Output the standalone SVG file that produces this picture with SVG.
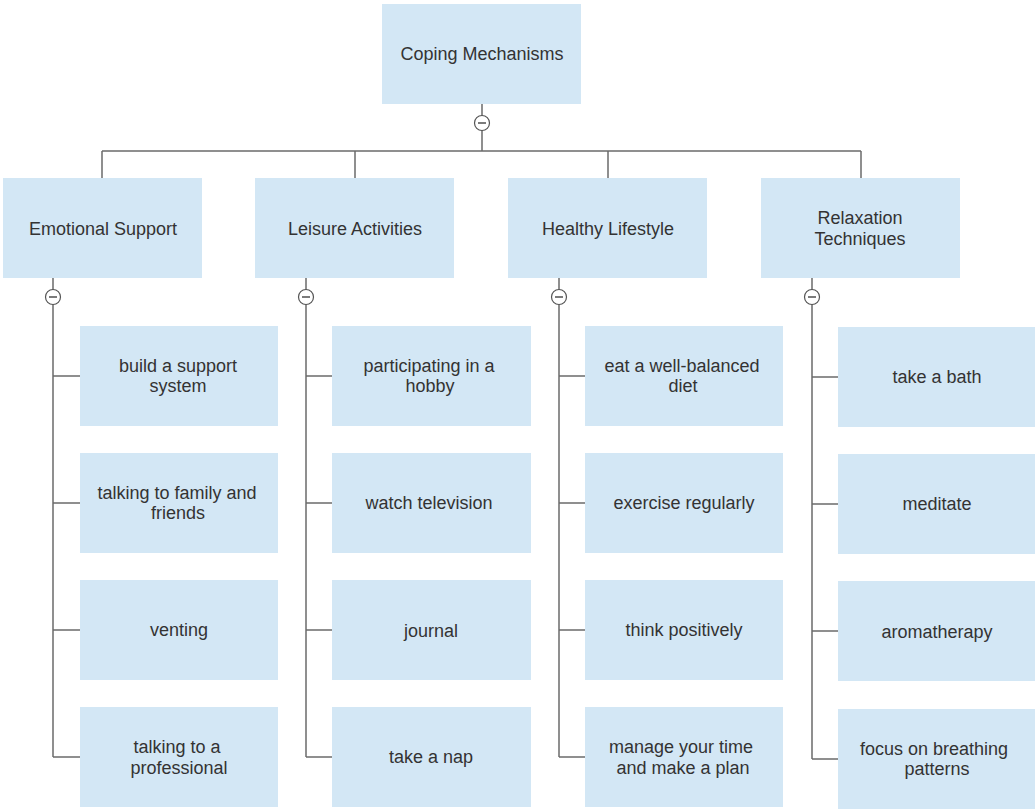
<svg xmlns="http://www.w3.org/2000/svg" width="1035" height="810" viewBox="0 0 1035 810">
<style>
.n{fill:#d3e7f5}
.t{font-family:"Liberation Sans",Arial,sans-serif;font-size:18px;fill:#333;text-anchor:middle}
.c{stroke:#6b6b6b;stroke-width:1.5;fill:none}
.k{fill:#fff;stroke:#555;stroke-width:1.2}
.m{stroke:#333;stroke-width:1.3}
</style>
<rect width="1035" height="810" fill="#fff"/>
<g id="connectors">
<path class="c" d="M482 104V151M102 151H861M102 151V178M355 151V178M608 151V178M861 151V178"/>
<path class="c" d="M53 278V757M53 376H80M53 503H80M53 630H80M53 757H80"/>
<path class="c" d="M306 278V757M306 376H332M306 503H332M306 630H332M306 757H332"/>
<path class="c" d="M559 278V757M559 376H585M559 503H585M559 630H585M559 757H585"/>
<path class="c" d="M812 278V759M812 377H838M812 504H838M812 631H838M812 759H838"/>
<g><circle class="k" cx="482" cy="123" r="7.5"/><path class="m" d="M478 123H486"/></g>
<g><circle class="k" cx="53" cy="297" r="7.5"/><path class="m" d="M49 297H57"/></g>
<g><circle class="k" cx="306" cy="297" r="7.5"/><path class="m" d="M302 297H310"/></g>
<g><circle class="k" cx="559" cy="297" r="7.5"/><path class="m" d="M555 297H563"/></g>
<g><circle class="k" cx="812" cy="297" r="7.5"/><path class="m" d="M808 297H816"/></g>
</g>
<g id="root"><rect class="n" x="382" y="4" width="199" height="100"/><text class="t" x="482" y="60">Coping Mechanisms</text></g>
<g id="emotional"><rect class="n" x="3" y="178" width="199" height="100"/><text class="t" x="103" y="235">Emotional Support</text></g>
<g id="leisure"><rect class="n" x="255" y="178" width="199" height="100"/><text class="t" x="355" y="235">Leisure Activities</text></g>
<g id="healthy"><rect class="n" x="508" y="178" width="199" height="100"/><text class="t" x="608" y="235">Healthy Lifestyle</text></g>
<g id="relax"><rect class="n" x="761" y="178" width="199" height="100"/><text class="t" x="860" y="224">Relaxation</text><text class="t" x="860" y="245">Techniques</text></g>

<g id="e1"><rect class="n" x="80" y="326" width="198" height="100"/><text class="t" x="178" y="372">build a support</text><text class="t" x="178" y="392">system</text></g>
<g id="e2"><rect class="n" x="80" y="453" width="198" height="100"/><text class="t" x="177" y="499">talking to family and</text><text class="t" x="178" y="519">friends</text></g>
<g id="e3"><rect class="n" x="80" y="580" width="198" height="100"/><text class="t" x="179" y="636">venting</text></g>
<g id="e4"><rect class="n" x="80" y="707" width="198" height="100"/><text class="t" x="177" y="753">talking to a</text><text class="t" x="179" y="774">professional</text></g>

<g id="l1"><rect class="n" x="332" y="326" width="199" height="100"/><text class="t" x="429" y="372">participating in a</text><text class="t" x="430" y="392">hobby</text></g>
<g id="l2"><rect class="n" x="332" y="453" width="199" height="100"/><text class="t" x="429" y="509">watch television</text></g>
<g id="l3"><rect class="n" x="332" y="580" width="199" height="100"/><text class="t" x="431" y="637">journal</text></g>
<g id="l4"><rect class="n" x="332" y="707" width="199" height="100"/><text class="t" x="431" y="763">take a nap</text></g>

<g id="h1"><rect class="n" x="585" y="326" width="198" height="100"/><text class="t" x="682" y="372">eat a well-balanced</text><text class="t" x="683" y="392">diet</text></g>
<g id="h2"><rect class="n" x="585" y="453" width="198" height="100"/><text class="t" x="684" y="509">exercise regularly</text></g>
<g id="h3"><rect class="n" x="585" y="580" width="198" height="100"/><text class="t" x="684" y="636">think positively</text></g>
<g id="h4"><rect class="n" x="585" y="707" width="198" height="100"/><text class="t" x="681" y="753">manage your time</text><text class="t" x="683" y="774">and make a plan</text></g>

<g id="r1"><rect class="n" x="838" y="327" width="199" height="100"/><text class="t" x="937" y="383">take a bath</text></g>
<g id="r2"><rect class="n" x="838" y="454" width="199" height="100"/><text class="t" x="937" y="510">meditate</text></g>
<g id="r3"><rect class="n" x="838" y="581" width="199" height="100"/><text class="t" x="937" y="638">aromatherapy</text></g>
<g id="r4"><rect class="n" x="838" y="709" width="199" height="100"/><text class="t" x="934" y="755">focus on breathing</text><text class="t" x="937" y="775">patterns</text></g>
</svg>
